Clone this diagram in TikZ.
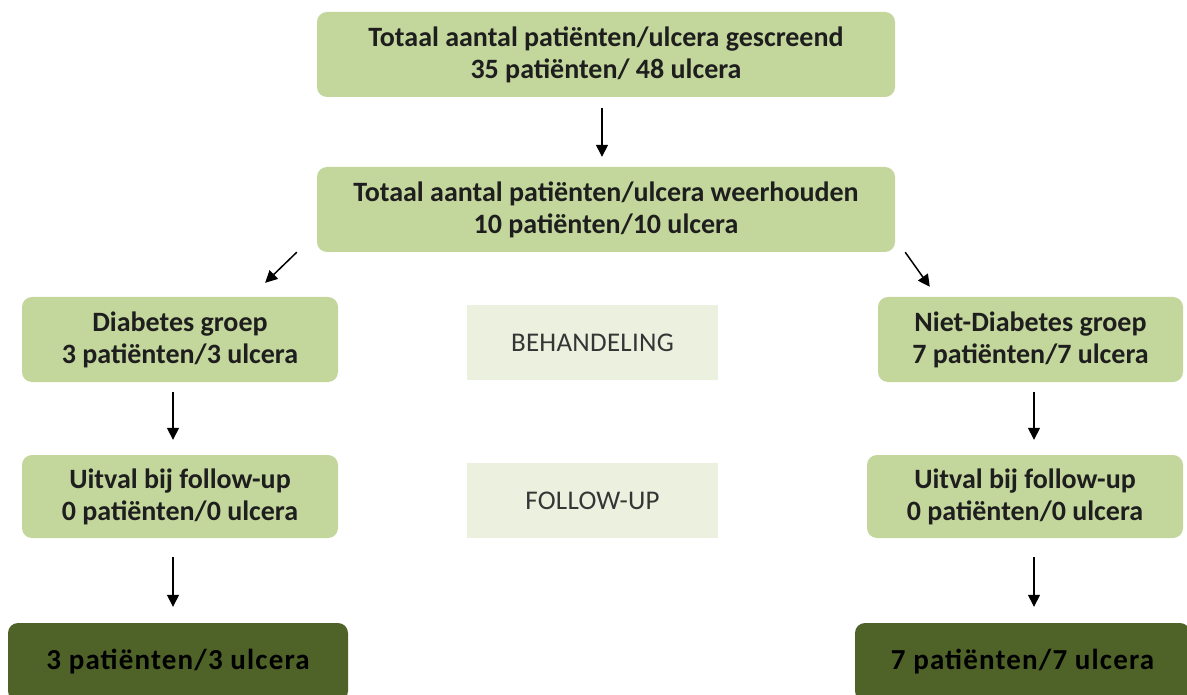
\documentclass[tikz,border=0pt]{standalone}
\usepackage{fontspec}
\setmainfont{Carlito}
\usetikzlibrary{arrows.meta,calc}
\definecolor{lgreen}{RGB}{195,214,155}
\definecolor{dgreen}{RGB}{79,98,40}
\definecolor{pgreen}{RGB}{235,241,222}
\definecolor{txt}{RGB}{30,30,30}
\tikzset{
  gbox/.style={fill=lgreen, rounded corners=10pt, inner sep=0pt, align=center,
    font=\fontsize{28}{32}\selectfont\bfseries, text=txt},
  dbox/.style={fill=dgreen, rounded corners=10pt, inner sep=0pt, align=center,
    font=\fontsize{29}{32}\selectfont\bfseries\addfontfeature{LetterSpace=4}, text=black},
  pbox/.style={fill=pgreen, inner sep=0pt, align=center,
    font=\fontsize{27}{32}\selectfont\addfontfeature{LetterSpace=1}, text=txt!90},
  arr/.style={draw=black, line width=1.5pt, -{Triangle[length=12pt,width=12pt]}}
}
\begin{document}
\begin{tikzpicture}[x=1pt,y=-1pt]
\useasboundingbox (0,0) rectangle (1187,695);
\fill[white] (0,0) rectangle (1187,695);
% top boxes
\node[gbox, minimum width=578pt, minimum height=85pt] (top) at (606,54.5)
  {Totaal aantal patiënten/ulcera gescreend\\35 patiënten/ 48 ulcera};
\node[gbox, minimum width=578pt, minimum height=85pt] (sel) at (606,209.5)
  {Totaal aantal patiënten/ulcera weerhouden\\10 patiënten/10 ulcera};
% left column
\node[gbox, minimum width=316pt, minimum height=85pt] (diab) at (180,339.5)
  {Diabetes groep\\3 patiënten/3 ulcera};
\node[gbox, minimum width=316pt, minimum height=83pt] (uitL) at (180,496.5)
  {Uitval bij follow-up\\0 patiënten/0 ulcera};
\node[dbox, minimum width=340pt, minimum height=78pt] (finL) at (178,662)
  {3 patiënten/3 ulcera};
% right column
\node[gbox, minimum width=305pt, minimum height=85pt] (niet) at (1030.5,339.5)
  {Niet-Diabetes groep\\7 patiënten/7 ulcera};
\node[gbox, minimum width=316pt, minimum height=83pt] (uitR) at (1025,496.5)
  {Uitval bij follow-up\\0 patiënten/0 ulcera};
\node[dbox, minimum width=335pt, minimum height=78pt] (finR) at (1022.5,662)
  {7 patiënten/7 ulcera};
% middle labels
\node[pbox, minimum width=251pt, minimum height=75pt] (beh) at (592.5,342.5) {BEHANDELING};
\node[pbox, minimum width=251pt, minimum height=75pt] (fu) at (592.5,500.5) {FOLLOW-UP};
% arrows
\draw[arr, shorten <=11pt, shorten >=10pt] ([xshift=-4pt]top.south) -- ([xshift=-4pt]sel.north);
\draw[arr] ([xshift=-20pt]sel.south west) -- ([xshift=-73pt,yshift=14pt]diab.north east);
\draw[arr] ([xshift=10pt]sel.south east) -- ([xshift=52pt,yshift=10pt]niet.north west);
\draw[arr, shorten <=10pt, shorten >=15pt] ([xshift=-7pt]diab.south) -- ([xshift=-7pt]uitL.north);
\draw[arr, shorten <=19pt, shorten >=16pt] ([xshift=-7pt]uitL.south) -- ([xshift=-7pt]uitL.south |- finL.north);
\draw[arr, shorten <=10pt, shorten >=15pt] ([xshift=3.5pt]niet.south) -- ([xshift=3.5pt]niet.south |- uitR.north);
\draw[arr, shorten <=19pt, shorten >=16pt] ([xshift=9pt]uitR.south) -- ([xshift=9pt]uitR.south |- finR.north);
\end{tikzpicture}
\end{document}
